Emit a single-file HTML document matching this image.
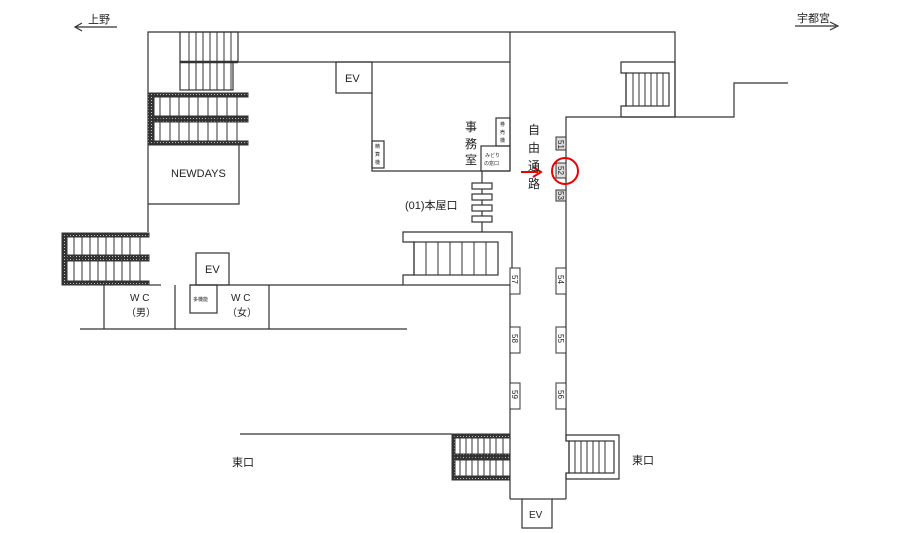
<!DOCTYPE html>
<html><head><meta charset="utf-8"><style>
html,body{margin:0;padding:0;background:#fff}
svg{display:block}
text{font-family:"Liberation Sans","Noto Sans CJK JP",sans-serif;fill:#222}
</style></head><body>
<svg width="919" height="533" viewBox="0 0 919 533" xmlns="http://www.w3.org/2000/svg">
<defs>
<pattern id="h" width="3" height="3" patternUnits="userSpaceOnUse">
<rect width="3" height="3" fill="#333"/><rect x="1" y="1" width="1" height="1" fill="#bbb"/>
</pattern>
</defs>
<g stroke="#333" stroke-width="1.2" fill="none">
<!-- direction arrows -->
<line x1="75" y1="27" x2="117" y2="27"/><polyline points="82,23 75,27 82,31"/>
<line x1="795" y1="26" x2="836" y2="26"/><polyline points="830,22 838,26 830,30"/>
<!-- outer top -->
<polyline points="148,232 148,32 675,32 675,117 566,117 566,435"/>
<polyline points="675,117 734,117 734,83 788,83"/>
<line x1="238" y1="62" x2="510" y2="62"/>
<line x1="510" y1="32" x2="510" y2="171"/>
<!-- top stairs -->
<rect x="180" y="32" width="58" height="30"/>
<line x1="180" y1="62" x2="238" y2="62" stroke-width="2.5"/>
<rect x="180" y="62" width="53" height="28"/>
<!-- NEWDAYS -->
<polyline points="148,204 239,204 239,143"/>
<!-- EV top -->
<rect x="336" y="62" width="36" height="31"/>
<polyline points="372,93 372,171 510,171"/>
<rect x="372" y="141" width="12" height="27"/>
<rect x="496" y="118" width="14" height="28"/>
<rect x="481" y="146" width="29" height="25"/>
<line x1="482" y1="171" x2="482" y2="232"/>
<rect x="472" y="183" width="20" height="6" fill="#fff"/>
<rect x="472" y="194" width="20" height="6" fill="#fff"/>
<rect x="472" y="205" width="20" height="6" fill="#fff"/>
<rect x="472" y="216" width="20" height="6" fill="#fff"/>
<!-- right stair top -->
<polygon points="621,62 675,62 675,117 621,117 621,106 626,106 626,73 621,73"/>
<rect x="626" y="73" width="43" height="33"/>
<!-- honya stair -->
<polygon points="403,232 512,232 512,285 403,285 403,275 414,275 414,242 403,242"/>
<rect x="414" y="242" width="84" height="33"/>
<!-- corridor -->
<line x1="510" y1="285" x2="510" y2="499"/>
<line x1="566" y1="435" x2="566" y2="441"/>
<line x1="566" y1="473" x2="566" y2="499"/>
<polyline points="510,499 522,499"/><polyline points="552,499 566,499"/>
<rect x="522" y="499" width="30" height="29"/>
<!-- east stair right -->
<polygon points="566,435 619,435 619,479 566,479 566,473 569,473 569,441 566,441"/>
<rect x="569" y="441" width="45" height="32"/>
<line x1="240" y1="434" x2="452" y2="434"/>
<!-- WC -->
<line x1="149" y1="285" x2="161" y2="285"/>
<line x1="190" y1="285" x2="403" y2="285"/>
<line x1="104" y1="285" x2="104" y2="329"/>
<line x1="175" y1="285" x2="175" y2="329"/>
<line x1="269" y1="285" x2="269" y2="329"/>
<line x1="80" y1="329" x2="407" y2="329"/>
<rect x="196" y="253" width="33" height="32"/>
<rect x="190" y="285" width="27" height="28"/>
</g>
<!-- hatched stairs -->
<g stroke="#333" stroke-width="1">
<rect x="148" y="93" width="100" height="4" fill="url(#h)"/>
<rect x="148" y="116" width="100" height="6" fill="url(#h)"/>
<rect x="148" y="141" width="100" height="4" fill="url(#h)"/>
<rect x="148" y="93" width="6" height="52" fill="url(#h)"/>
<rect x="62" y="233" width="87" height="4" fill="url(#h)"/>
<rect x="62" y="255" width="87" height="6" fill="url(#h)"/>
<rect x="62" y="281" width="87" height="4" fill="url(#h)"/>
<rect x="62" y="233" width="5" height="52" fill="url(#h)"/>
<rect x="452" y="434" width="58" height="4" fill="url(#h)"/>
<rect x="452" y="454" width="58" height="6" fill="url(#h)"/>
<rect x="452" y="476" width="58" height="4" fill="url(#h)"/>
<rect x="452" y="434" width="3" height="46" fill="url(#h)"/>
</g>
<g stroke="#333" stroke-width="1">
<path d="M189 32V62M196 32V62M203 32V62M210 32V62M217 32V62M224 32V62M231 32V62"/>
<path d="M189 62V90M196 62V90M203 62V90M210 62V90M217 62V90M224 62V90M231 62V90"/>
<path d="M160 97V141M170 97V141M179 97V141M189 97V141M198 97V141M208 97V141M217 97V141M227 97V141M237 97V141"/>
<path d="M74 237V281M82 237V281M90 237V281M98 237V281M106 237V281M114 237V281M122 237V281M130 237V281M140 237V281"/>
<path d="M460 438V476M466 438V476M472 438V476M478 438V476M484 438V476M490 438V476M496 438V476M503 438V476"/>
<path d="M633 73V106M639 73V106M645 73V106M651 73V106M657 73V106M663 73V106"/>
<path d="M426 242V275M438 242V275M450 242V275M462 242V275M474 242V275M486 242V275"/>
<path d="M575 441V473M581 441V473M587 441V473M593 441V473M599 441V473M605 441V473"/>
</g>
<!-- numbered boxes -->
<g stroke="#333" stroke-width="1" fill="#fff">
<rect x="556" y="137" width="10" height="13" fill="#ddd"/>
<rect x="556" y="163" width="10" height="15" fill="#ddd"/>
<rect x="556" y="190" width="10" height="11" fill="#ddd"/>
<rect x="510" y="268" width="10" height="26"/><rect x="510" y="327" width="10" height="26"/><rect x="510" y="383" width="10" height="26"/>
<rect x="556" y="268" width="10" height="26"/><rect x="556" y="327" width="10" height="26"/><rect x="556" y="383" width="10" height="26"/>
</g>
<g font-size="8">
<text transform="translate(558,140) rotate(90)">51</text>
<text transform="translate(558,166) rotate(90)">52</text>
<text transform="translate(558,191) rotate(90)">53</text>
<text transform="translate(512,275) rotate(90)">57</text>
<text transform="translate(512,334) rotate(90)">58</text>
<text transform="translate(512,390) rotate(90)">59</text>
<text transform="translate(558,275) rotate(90)">54</text>
<text transform="translate(558,334) rotate(90)">55</text>
<text transform="translate(558,390) rotate(90)">56</text>
</g>
<!-- red marker -->
<line x1="521" y1="172" x2="538" y2="172" stroke="#e00" stroke-width="2"/>
<polyline points="533,167 541,172 533,177" stroke="#e00" stroke-width="2" fill="none"/>
<circle cx="565" cy="171" r="13" stroke="#e00" stroke-width="2" fill="none"/>
<!-- labels -->
<text x="88" y="23" font-size="11">上野</text>
<text x="797" y="22" font-size="11">宇都宮</text>
<text x="171" y="177" font-size="11">NEWDAYS</text>
<text x="345" y="82" font-size="11">EV</text>
<text x="205" y="273" font-size="11">EV</text>
<text x="529" y="518" font-size="10">EV</text>
<text x="405" y="209" font-size="11">(01)本屋口</text>
<g font-size="12"><text x="465" y="131">事</text><text x="465" y="148">務</text><text x="465" y="164">室</text></g>
<g font-size="12"><text x="528" y="134">自</text><text x="528" y="152">由</text><text x="528" y="170">通</text><text x="528" y="188">路</text></g>
<g font-size="5"><text x="500" y="126">券</text><text x="500" y="134">売</text><text x="500" y="142">機</text>
<text x="375" y="148">精</text><text x="375" y="156">算</text><text x="375" y="164">機</text>
<text x="485" y="157">みどり</text><text x="484" y="165">の窓口</text>
<text x="193" y="301">多機能</text></g>
<text x="130" y="301" font-size="10">W C</text><text x="126" y="316" font-size="10">（男）</text>
<text x="231" y="301" font-size="10">W C</text><text x="227" y="316" font-size="10">（女）</text>
<text x="232" y="466" font-size="11">東口</text>
<text x="632" y="464" font-size="11">東口</text>
</svg>
</body></html>
